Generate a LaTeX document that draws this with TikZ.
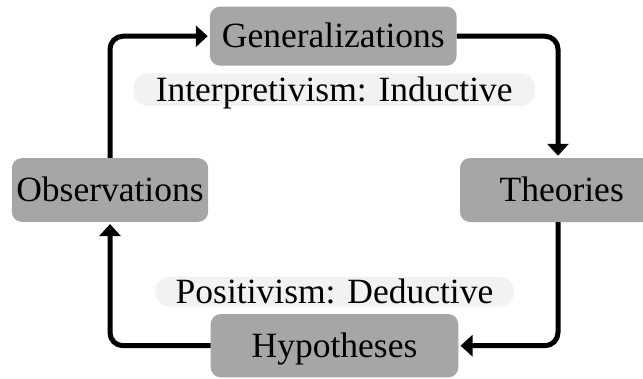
\documentclass[tikz,border=0pt]{standalone}
\usepackage{fontspec}
\setmainfont{Liberation Serif}
\usetikzlibrary{arrows.meta}
\definecolor{boxgray}{HTML}{A6A6A6}
\definecolor{pillgray}{HTML}{F2F2F2}
\begin{document}
\begin{tikzpicture}[x=1pt,y=-1pt,
  every node/.style={font=\fontsize{35.5}{40}\selectfont, inner sep=0pt,
    text height=23.5pt, text depth=0pt},
  stagebox/.style={fill=boxgray, rounded corners=10pt},
  pill/.style={fill=pillgray, rounded corners=15pt},
  conn/.style={line width=5pt, rounded corners=13pt, shorten >=2pt,
    -{Triangle[width=21pt,length=12pt]}}]
  \useasboundingbox (0,0) rectangle (643,378);
  % stages of the research cycle
  \node[stagebox, minimum width=246.7pt, minimum height=59pt] (gen) at (333.3,36.2) {Generalizations};
  \node[stagebox, minimum width=196.3pt, minimum height=63.7pt] (obs) at (110,190) {Observations};
  \node[stagebox, minimum width=203.4pt, minimum height=64pt] (theo) at (561.7,190) {Theories};
  \node[stagebox, minimum width=247.6pt, minimum height=63.3pt] (hyp) at (334.5,345.7) {Hypotheses};
  % approach labels
  \node[pill, minimum width=401.7pt, minimum height=32.7pt] (ind) at (334.2,89.7) {Interpretivism: Inductive};
  \node[pill, minimum width=359pt, minimum height=29.7pt] (ded) at (334.5,291.8) {Positivism: Deductive};
  % cycle connectors
  \draw[conn] (hyp.west) -| (obs.south);
  \draw[conn] (obs.north) |- (gen.west);
  \draw[conn] (gen.east) -| ([xshift=-3.7pt]theo.north);
  \draw[conn] ([xshift=-3.7pt]theo.south) |- (hyp.east);
\end{tikzpicture}
\end{document}
